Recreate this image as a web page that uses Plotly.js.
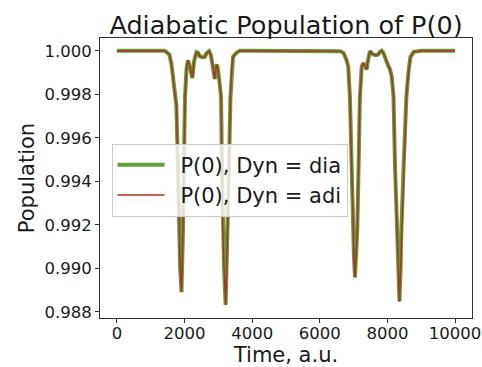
<!DOCTYPE html>
<html>
<head>
<meta charset="utf-8">
<script src="https://cdn.plot.ly/plotly-3.0.1.min.js"></script>
<style>
  html, body { margin: 0; padding: 0; background: #fff; }
  #chart { width: 482px; height: 367px; }
</style>
</head>
<body>
<div id="chart"></div>
<script>
// Time axis (a.u.)
const time = [0, 500, 1000, 1400, 1460, 1550, 1611, 1658, 1710, 1758, 1800, 1836, 1870, 1910, 1935, 1954, 1980, 2014, 2060, 2103, 2150, 2200, 2232, 2280, 2351, 2400, 2449, 2520, 2597, 2660, 2725, 2780, 2830, 2893, 2935, 2965, 3000, 3040, 3080, 3105, 3130, 3170, 3215, 3245, 3278, 3316, 3357, 3400, 3435, 3530, 3633, 4000, 5000, 6000, 6550, 6600, 6700, 6793, 6841, 6890, 6940, 6975, 7010, 7040, 7070, 7107, 7148, 7186, 7237, 7285, 7330, 7385, 7430, 7483, 7530, 7580, 7650, 7728, 7780, 7829, 7880, 7927, 7975, 8025, 8075, 8125, 8180, 8222, 8273, 8320, 8355, 8390, 8410, 8480, 8560, 8620, 8680, 8780, 9000, 10000];
// Population P(0), diabatic dynamics
const popDia = [1.0, 1.0, 1.0, 1.0, 0.99995, 0.99982, 0.99941, 0.99880, 0.99830, 0.99750, 0.99500, 0.99175, 0.99000, 0.98891, 0.99000, 0.99175, 0.99481, 0.99788, 0.99920, 0.99956, 0.99930, 0.99890, 0.99875, 0.99950, 0.99993, 0.99990, 0.99975, 0.99970, 0.99972, 0.99990, 0.99998, 0.99980, 0.99940, 0.99870, 0.99930, 0.99935, 0.99900, 0.99850, 0.99788, 0.99481, 0.99175, 0.99000, 0.98832, 0.99000, 0.99175, 0.99481, 0.99788, 0.99930, 0.99972, 0.99990, 1.0, 1.0, 1.0, 1.0, 1.0, 0.99998, 0.99990, 0.99956, 0.99926, 0.99788, 0.99481, 0.99175, 0.99050, 0.98958, 0.99050, 0.99175, 0.99481, 0.99788, 0.99926, 0.99944, 0.99930, 0.99914, 0.99960, 0.99998, 0.99990, 0.99983, 0.99980, 0.99983, 0.99995, 1.0, 0.99990, 0.99975, 0.99950, 0.99930, 0.99914, 0.99883, 0.99788, 0.99481, 0.99175, 0.99000, 0.98848, 0.99000, 0.99175, 0.99481, 0.99788, 0.99900, 0.99972, 0.99995, 1.0, 1.0];
// Population P(0), adiabatic dynamics (coincides with diabatic)
const popAdi = popDia.slice();

const seriesNames = ["P(0), Dyn = dia", "P(0), Dyn = adi"];
const xTickVals = [0, 2000, 4000, 6000, 8000, 10000];
const yTickVals = [0.988, 0.990, 0.992, 0.994, 0.996, 0.998, 1.000];

const font = "DejaVu Sans, sans-serif";
const pad = "\u00A0\u2009";
const traces = [
  { x: time, y: popDia, type: "scatter", mode: "lines", name: pad + seriesNames[0],
    line: { color: "#5fa03a", width: 4, shape: "linear" } },
  { x: time, y: popAdi, type: "scatter", mode: "lines", name: pad + seriesNames[1],
    line: { color: "#b02e22", width: 1.4, shape: "linear" } }
];

const axisCommon = {
  showgrid: false, zeroline: false, showline: true, mirror: true,
  linecolor: "#333", linewidth: 1, ticks: "outside", ticklen: 4,
  tickcolor: "#333", tickwidth: 1,
  tickfont: { family: font, size: 16.5, color: "#1a1a1a" }
};

const layout = {
  width: 482, height: 367,
  margin: { l: 100, r: 10, t: 38, b: 49.4, pad: 0 },
  paper_bgcolor: "#fff", plot_bgcolor: "#fff",
  showlegend: true,
  title: { text: "Adiabatic Population of P(0)", x: 0.5, xref: "paper", xanchor: "center",
           y: 0.907, yref: "container", yanchor: "bottom",
           font: { family: font, size: 25.5, color: "#1a1a1a" } },
  xaxis: Object.assign({}, axisCommon, {
    range: [-500, 10500], tickvals: xTickVals, tickformat: "d", ticklabelstandoff: -4,
    title: { text: "Time, a.u.", standoff: 2, font: { family: font, size: 21, color: "#1a1a1a" } }
  }),
  yaxis: Object.assign({}, axisCommon, {
    range: [0.98772, 1.000585], tickvals: yTickVals, tickformat: ".3f",
    title: { text: "Population", standoff: 4, font: { family: font, size: 21, color: "#1a1a1a" } }
  }),
  legend: {
    x: 0.031, y: 0.623, xanchor: "left", yanchor: "top",
    bgcolor: "rgba(255,255,255,0.8)", bordercolor: "#cccccc", borderwidth: 1,
    font: { family: font, size: 21, color: "#1a1a1a" },
    itemwidth: 47, tracegroupgap: 0
  }
};

Plotly.newPlot("chart", traces, layout, { staticPlot: true, displayModeBar: false });
</script>
</body>
</html>
